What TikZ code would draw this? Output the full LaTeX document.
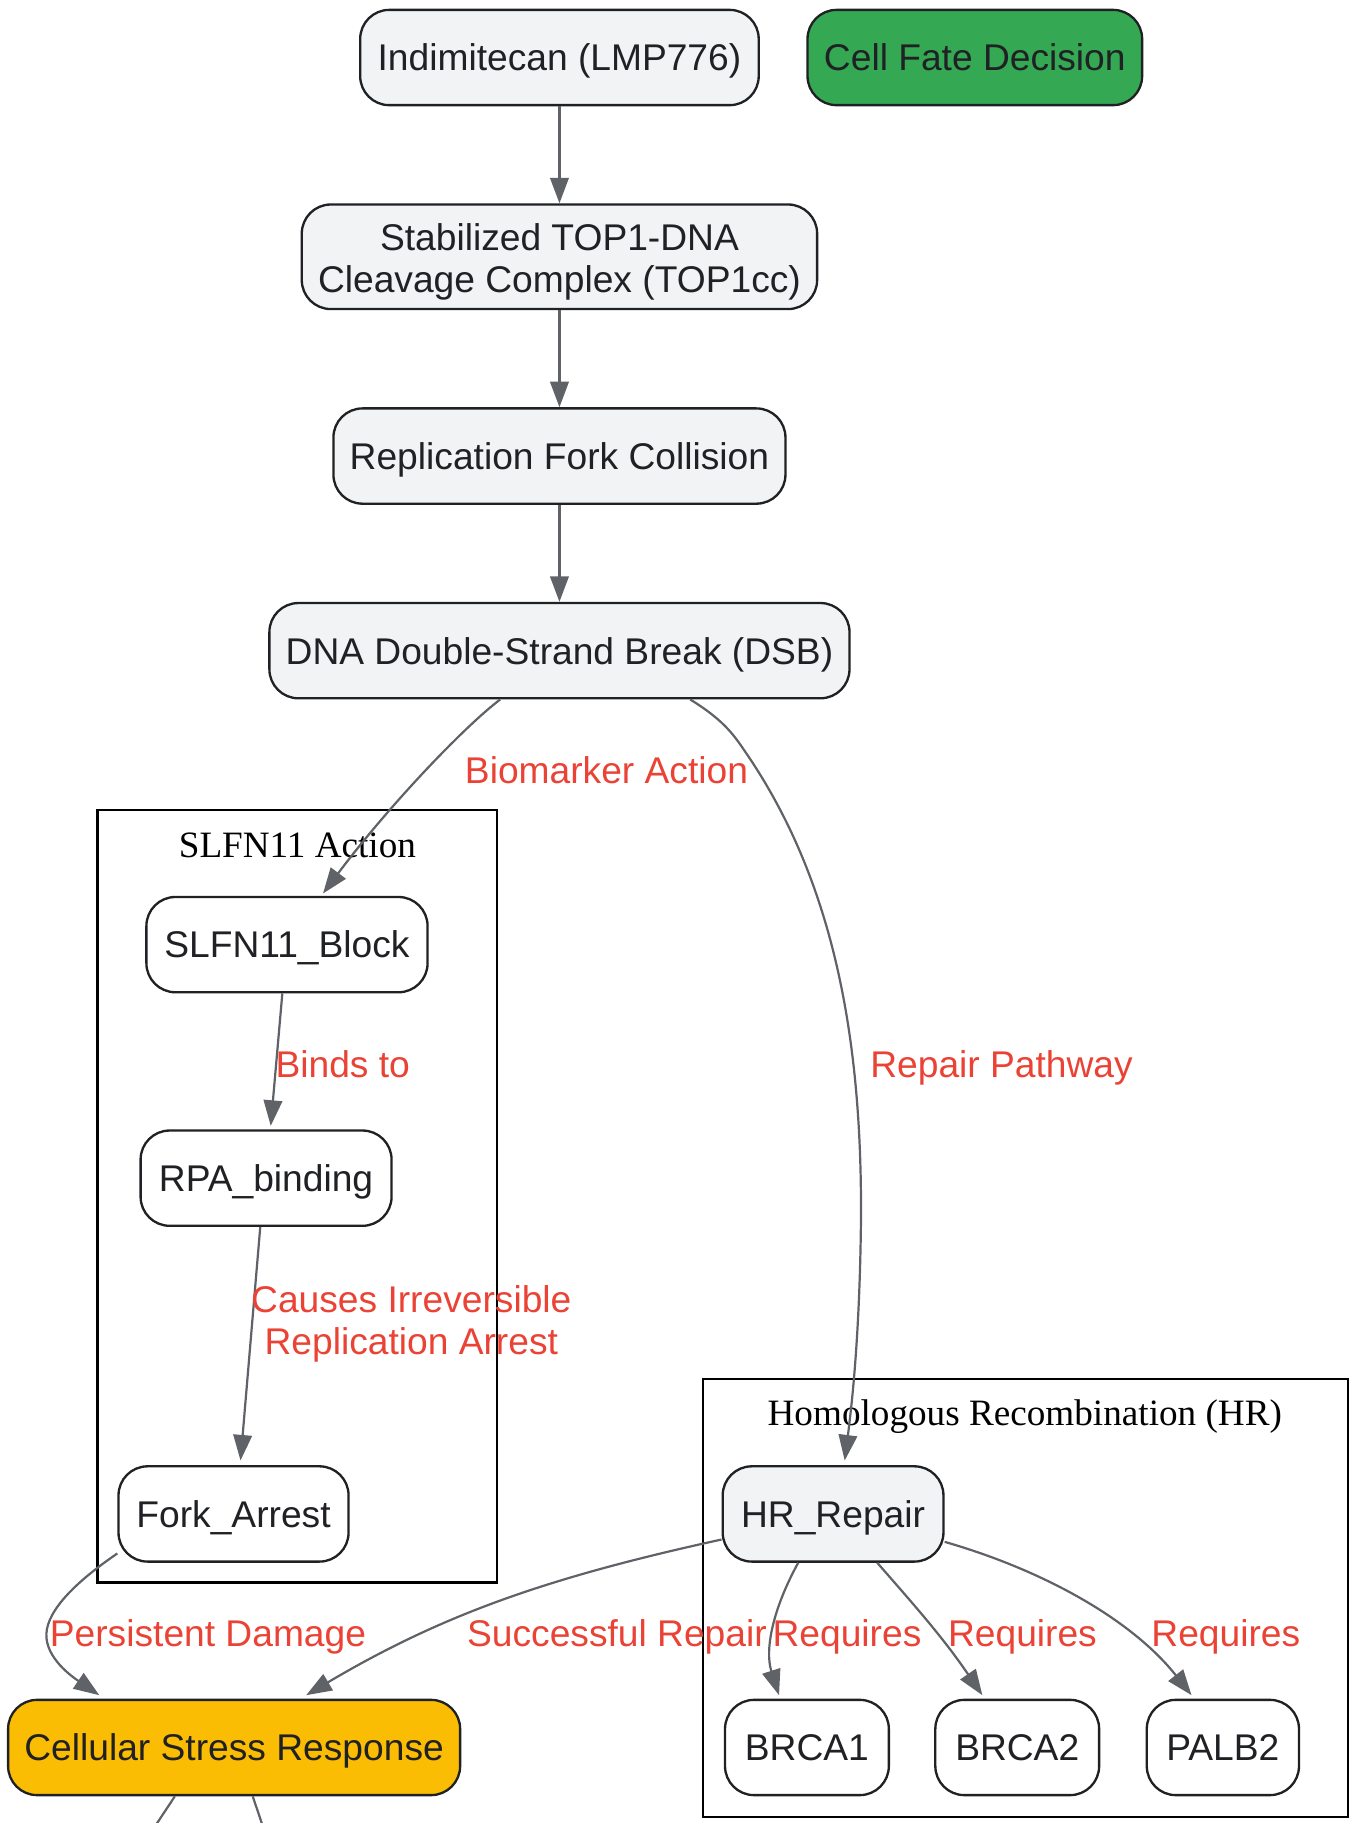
\documentclass[tikz,border=0pt]{standalone}
\usepackage{fontspec}
\setmainfont{Liberation Sans}
\newfontfamily\seriffont{Liberation Serif}
\usetikzlibrary{arrows.meta,calc}
\definecolor{nodegray}{HTML}{F1F3F4}
\definecolor{nodeline}{HTML}{202124}
\definecolor{edgegray}{HTML}{5F6368}
\definecolor{labred}{HTML}{EA4335}
\definecolor{fategreen}{HTML}{34A853}
\definecolor{stressorange}{HTML}{FBBC04}
\tikzset{
  box/.style={draw=nodeline, line width=2pt, rounded corners=25pt, minimum height=82pt,
    inner xsep=14pt, align=center, text=nodeline, font=\fontsize{32}{36.5}\selectfont,
    text height=29.4pt, text depth=6.4pt},
  twoline/.style={text height=68.5pt, text depth=6.4pt},
  graybox/.style={box, fill=nodegray},
  whitebox/.style={box, fill=white},
  cluster/.style={draw=black, line width=2pt},
  clustertitle/.style={font=\seriffont\fontsize{32}{36}\selectfont, text=black},
  conn/.style={draw=edgegray, line width=1.9pt, -{Triangle[length=22pt,width=16pt]}},
  plainconn/.style={draw=edgegray, line width=1.9pt},
  elabel/.style={text=labred, font=\fontsize{32}{36.5}\selectfont, align=center,
    text height=29.4pt, text depth=6.4pt}
}
\begin{document}
\begin{tikzpicture}[x=1pt,y=-1pt]
\useasboundingbox (0,0) rectangle (1162,1569);
% clusters
\draw[cluster] (84,697) rectangle (428,1362);
\node[clustertitle] (t1) at (256,728) {SLFN11 Action};
\draw[cluster] (605,1187) rectangle (1160,1564);
\node[clustertitle] (t2) at (882,1219) {Homologous Recombination (HR)};
% nodes
\node[graybox, minimum width=343pt] (ind) at (481.5,49.5) {Indimitecan (LMP776)};
\node[box, fill=fategreen, minimum width=288pt] (fate) at (839,49.5) {Cell Fate Decision};
\node[graybox, twoline, minimum width=443pt, minimum height=90pt] (top) at (481.5,221) {Stabilized TOP1-DNA\\Cleavage Complex (TOP1cc)};
\node[graybox, minimum width=387pt] (rfc) at (481.5,392.5) {Replication Fork Collision};
\node[graybox, minimum width=491pt] (dsb) at (481.5,560) {DNA Double-Strand Break (DSB)};
\node[whitebox, minimum width=242pt] (slfn) at (247,813) {SLFN11\_Block};
\node[whitebox, minimum width=216pt] (rpa) at (229,1014) {RPA\_binding};
\node[whitebox, minimum width=198pt] (fork) at (201,1303) {Fork\_Arrest};
\node[graybox, minimum width=190pt] (hr) at (717,1303) {HR\_Repair};
\node[whitebox, minimum width=141pt] (b1) at (694.5,1504) {BRCA1};
\node[whitebox, minimum width=141pt] (b2) at (875.5,1504) {BRCA2};
\node[whitebox, minimum width=131pt] (pa) at (1052.5,1504) {PALB2};
\node[box, fill=stressorange, minimum width=387pt] (csr) at (201.5,1504) {Cellular Stress Response};
\coordinate (off1) at (128,1580);
\coordinate (off2) at (229,1580);
% edges
\draw[conn] (ind) -- (top);
\draw[conn] (top) -- (rfc);
\draw[conn] (rfc) -- (dsb);
\draw[conn] ($(dsb.south)+(-51,0)$) .. controls (400,625) and (335,693) .. ($(slfn.north)+(31,-2)$);
\draw[conn] ($(dsb.south)+(112.5,0)$) .. controls (620,618) and (630,630) .. (640,645)
   .. controls (720,760) and (742,900) .. (741,1050)
   .. controls (740,1150) and (733,1210) .. ($(hr.north)+(10,-4)$);
\draw[conn] ($(slfn.south)+(-4,0)$) -- ($(rpa.north)+(4,-3)$);
\draw[conn] ($(rpa.south)+(-5,0)$) -- ($(fork.north)+(6,-4)$);
\draw[conn] ($(fork.west)+(0,34)$) .. controls (60,1365) and (38,1390) .. (40,1410)
   .. controls (42,1430) and (65,1445) .. ($(csr.north)+(-116,-3)$);
\draw[conn] ($(hr.west)+(0,22)$) .. controls (470,1358) and (380,1390) .. ($(csr.north)+(62,-3)$);
\draw[conn] ($(hr.south)+(-30,0)$) .. controls (665,1385) and (658,1420) .. ($(b1.north)+(-24,-3)$);
\draw[conn] ($(hr.south)+(38,0)$) .. controls (790,1385) and (812,1410) .. ($(b2.north)+(-30,-3)$);
\draw[conn] ($(hr.east)+(0,24)$) .. controls (900,1352) and (975,1395) .. ($(pa.north)+(-27,-3)$);
\draw[plainconn] ($(csr.south)+(-51,0)$) -- (off1);
\draw[plainconn] ($(csr.south)+(16,0)$) -- (off2);
% labels
\node[elabel] (l1) at (522,663) {Biomarker Action};
\node[elabel] (l2) at (862,916) {Repair Pathway};
\node[elabel] (l3) at (295,916) {Binds to};
\node[elabel, twoline] (l4) at (354,1135) {Causes Irreversible\\Replication Arrest};
\node[elabel] (l5) at (179,1406) {Persistent Damage};
\node[elabel] (l6) at (531,1406) {Successful Repair};
\node[elabel] (l7) at (729,1406) {Requires};
\node[elabel] (l8) at (880,1406) {Requires};
\node[elabel] (l9) at (1055,1406) {Requires};
\end{tikzpicture}
\end{document}
